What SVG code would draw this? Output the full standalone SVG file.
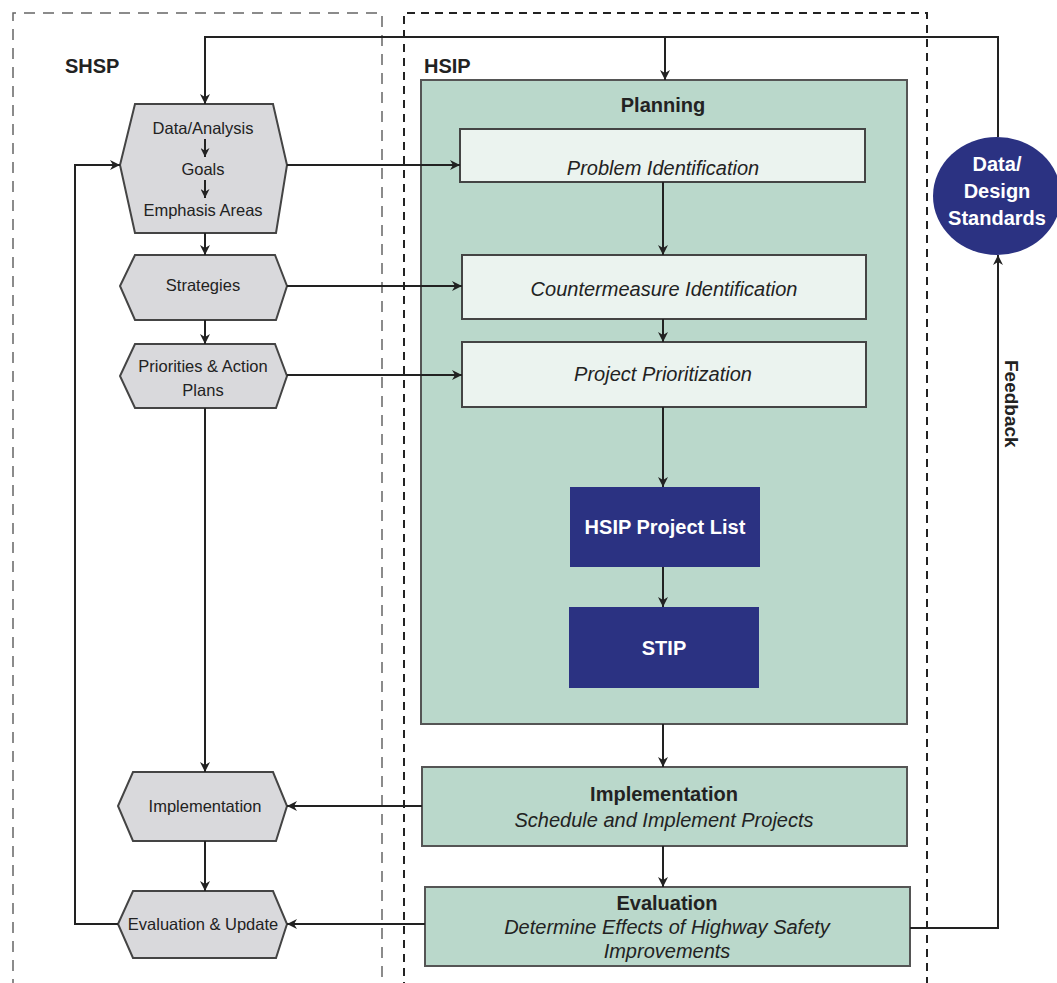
<svg xmlns="http://www.w3.org/2000/svg" width="1057" height="983" viewBox="0 0 1057 983">
<defs>
<marker id="arr" viewBox="0 0 10 10" refX="10" refY="5" markerWidth="11" markerHeight="10" markerUnits="userSpaceOnUse" orient="auto">
<path d="M0,0 L10,5 L0,10 L3,5 z" fill="#222"/>
</marker>
<marker id="arrs" viewBox="0 0 10 10" refX="10" refY="5" markerWidth="9" markerHeight="9" markerUnits="userSpaceOnUse" orient="auto">
<path d="M0,0 L10,5 L0,10 L3,5 z" fill="#222"/>
</marker>
<style>
.t{font-family:"Liberation Sans",Arial,sans-serif;fill:#222;}
.hex{fill:#d9d9dc;stroke:#444;stroke-width:2;}
.grn{fill:#bad8cb;stroke:#555;stroke-width:2;}
.lt{fill:#ebf3ef;stroke:#444;stroke-width:2;}
.navy{fill:#2b3282;}
.ca{stroke:#222;stroke-width:2;fill:none;marker-end:url(#arr);}
.cs{stroke:#222;stroke-width:2;fill:none;marker-end:url(#arrs);}
.h{font-size:16.5px;text-anchor:middle;}
.it{font-size:20px;font-style:italic;text-anchor:middle;}
.b{font-size:20px;font-weight:bold;text-anchor:middle;}
.w{fill:#fff;font-weight:bold;text-anchor:middle;font-size:20px;}
</style>
</defs>
<rect width="1057" height="983" fill="#fff"/>
<g id="shsp-frame">
<path d="M13,990 V13 H382 V990" fill="none" stroke="#666" stroke-width="1.5" stroke-dasharray="11,8"/>
<text class="t" x="65" y="73" font-size="20" font-weight="bold">SHSP</text>
</g>
<g id="hsip-frame">
<path d="M404,990 V13 H927 V990" fill="none" stroke="#222" stroke-width="2" stroke-dasharray="8,6"/>
<text class="t" x="424" y="73" font-size="20" font-weight="bold">HSIP</text>
</g>
<g id="planning">
<rect class="grn" x="421" y="80" width="486" height="644"/>
<text class="t b" x="663" y="112">Planning</text>
</g>
<g id="problem-identification">
<rect class="lt" x="460" y="129" width="405" height="53"/>
<text class="t it" x="663" y="175">Problem Identification</text>
</g>
<g id="countermeasure-identification">
<rect class="lt" x="462" y="255" width="404" height="64"/>
<text class="t it" x="664" y="296">Countermeasure Identification</text>
</g>
<g id="project-prioritization">
<rect class="lt" x="462" y="342" width="404" height="65"/>
<text class="t it" x="663" y="381">Project Prioritization</text>
</g>
<g id="hsip-project-list">
<rect class="navy" x="570" y="487" width="190" height="80"/>
<text class="t w" x="665" y="534">HSIP Project List</text>
</g>
<g id="stip">
<rect class="navy" x="569" y="607" width="190" height="81"/>
<text class="t w" x="664" y="655">STIP</text>
</g>
<g id="implementation">
<rect class="grn" x="422" y="767" width="485" height="79"/>
<text class="t b" x="664" y="801">Implementation</text>
<text class="t it" x="664" y="827">Schedule and Implement Projects</text>
</g>
<g id="evaluation">
<rect class="grn" x="425" y="887" width="485" height="79"/>
<text class="t b" x="667" y="910">Evaluation</text>
<text class="t it" x="667" y="934">Determine Effects of Highway Safety</text>
<text class="t it" x="667" y="958">Improvements</text>
</g>
<g id="data-design-standards">
<ellipse class="navy" cx="997" cy="196" rx="64" ry="59"/>
<text class="t w" x="997" y="171">Data/</text>
<text class="t w" x="997" y="198">Design</text>
<text class="t w" x="997" y="225">Standards</text>
</g>
<g id="hex-data-analysis">
<polygon class="hex" points="135,104 273,104 287,165 276,233 135,233 120,165"/>
<text class="t h" x="203" y="134">Data/Analysis</text>
<text class="t h" x="203" y="175">Goals</text>
<text class="t h" x="203" y="216">Emphasis Areas</text>
</g>
<g id="hex-strategies">
<polygon class="hex" points="135,255 275,255 287,286 276,320 135,320 120,286"/>
<text class="t h" x="203" y="291">Strategies</text>
</g>
<g id="hex-priorities">
<polygon class="hex" points="135,344 275,344 287,376 276,408 135,408 120,376"/>
<text class="t h" x="203" y="372">Priorities &amp; Action</text>
<text class="t h" x="203" y="396">Plans</text>
</g>
<g id="hex-implementation">
<polygon class="hex" points="133,772 273,772 287,806 276,841 133,841 118,806"/>
<text class="t h" x="205" y="812">Implementation</text>
</g>
<g id="hex-evaluation-update">
<polygon class="hex" points="133,891 273,891 287,924 276,958 133,958 118,924"/>
<text class="t h" x="203" y="930">Evaluation &amp; Update</text>
</g>
<g id="connectors">
<path class="cs" d="M205,139 V157"/>
<path class="cs" d="M205,180 V198"/>
<path class="ca" d="M998,137 V37 H205 V104"/>
<path class="ca" d="M665,37 V80"/>
<path class="ca" d="M287,165 H460"/>
<path class="ca" d="M287,286 H462"/>
<path class="ca" d="M287,375 H462"/>
<path class="ca" d="M663,182 V255"/>
<path class="ca" d="M663,319 V342"/>
<path class="ca" d="M663,407 V487"/>
<path class="ca" d="M663,567 V607"/>
<path class="ca" d="M663,724 V767"/>
<path class="ca" d="M663,846 V887"/>
<path class="ca" d="M205,233 V255"/>
<path class="ca" d="M205,320 V344"/>
<path class="ca" d="M205,408 V772"/>
<path class="ca" d="M205,841 V891"/>
<path class="ca" d="M422,806 H287"/>
<path class="ca" d="M425,924 H287"/>
<path class="ca" d="M118,924 H75 V165 H120"/>
<path class="ca" d="M910,928 H998 V255"/>
<text class="t" x="1005" y="360" font-size="19" font-weight="bold" transform="rotate(90 1005 360)">Feedback</text>
</g>
</svg>
